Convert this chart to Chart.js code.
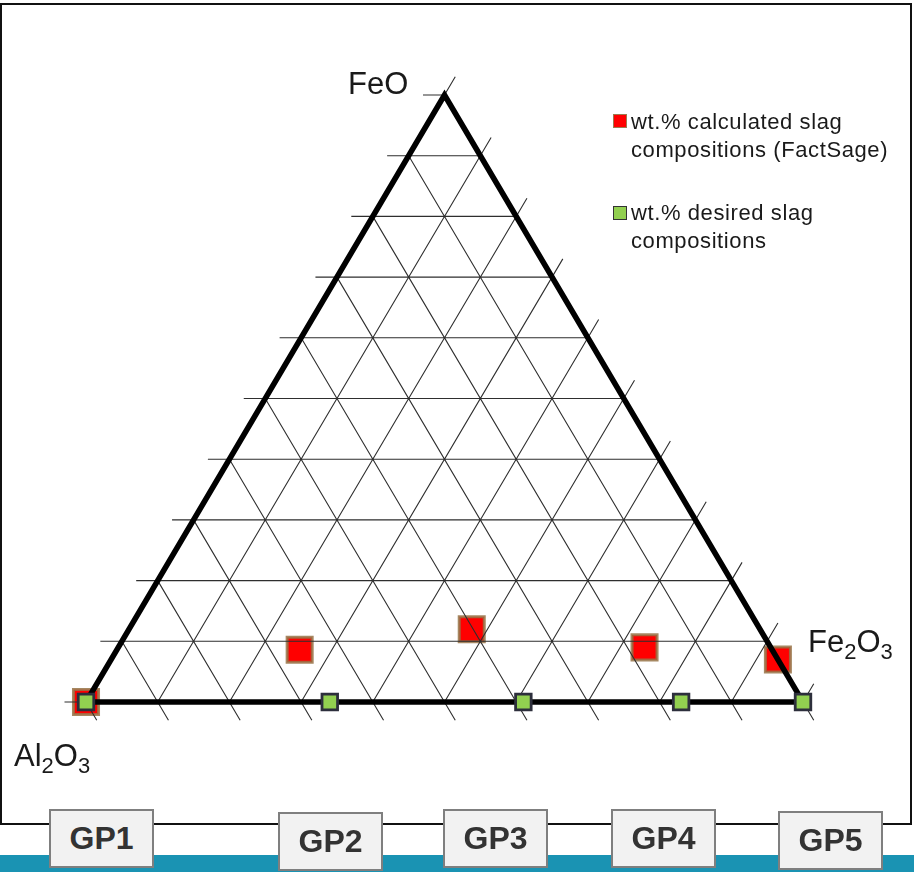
<!DOCTYPE html>
<html>
<head>
<meta charset="utf-8">
<title>Slag compositions - ternary diagram</title>
<script src="https://cdn.jsdelivr.net/npm/chart.js@4.4.1/dist/chart.umd.min.js"></script>
<style>
  html, body { margin: 0; padding: 0; background: #fff; }
  body { width: 914px; height: 872px; position: relative; overflow: hidden;
         font-family: "Liberation Sans", Arial, sans-serif; }
  #frame { position: absolute; left: 0; top: 3px; width: 912px; height: 822px;
           box-sizing: border-box; border: 2px solid #111; }
  #bar { position: absolute; left: 0; top: 855px; width: 914px; height: 17px; background: #1a93b3; }
  #chartBox { position: absolute; left: 0; top: 0; width: 914px; height: 872px; }
  .lbl { position: absolute; font-size: 31px; line-height: 1; color: #1a1a1a; white-space: nowrap; }
  .lbl sub { font-size: 22px; vertical-align: -7px; line-height: 0; }
  .leg { position: absolute; left: 631px; font-size: 22px; line-height: 28px;
         letter-spacing: 0.6px; color: #1a1a1a; white-space: nowrap; }
  .sw { position: absolute; width: 12px; height: 12px; }
  .gp { position: absolute; box-sizing: border-box; border: 2px solid #7f7f7f; background: #f2f2f2;
        font-weight: bold; font-size: 32px; color: #333; display: flex;
        align-items: center; justify-content: center; }
</style>
</head>
<body>
<div id="frame"></div>
<div id="bar"></div>
<div id="chartBox"><canvas id="ternChart"></canvas></div>

<div class="lbl" style="left:348px; top:68px;">FeO</div>
<div class="lbl" style="left:808px; top:626px;">Fe<sub>2</sub>O<sub>3</sub></div>
<div class="lbl" style="left:14px; top:740px;">Al<sub>2</sub>O<sub>3</sub></div>

<div class="sw" style="left:613px; top:114px; background:#ff0000; border:1px solid #9b7b52;"></div>
<div class="leg" style="top:108px;">wt.% calculated slag<br>compositions (FactSage)</div>
<div class="sw" style="left:613px; top:206px; background:#92d050; border:1px solid #333;"></div>
<div class="leg" style="top:199px;">wt.% desired slag<br>compositions</div>

<div id="gpRow"></div>

<script>
// sample names
const categories = ['GP1', 'GP2', 'GP3', 'GP4', 'GP5'];

// wt.% calculated slag compositions (FactSage)
const calcFeO   = [0, 8.6, 12.0, 9.0, 7.0];
const calcFe2O3 = [0, 25.5, 47.8, 73.4, 93.0];
const calcAl2O3 = [100, 65.9, 40.2, 17.6, 0];

// wt.% desired slag compositions
const desFeO   = [0, 0, 0, 0, 0];
const desFe2O3 = [0, 34, 61, 83, 100];
const desAl2O3 = [100, 66, 39, 17, 0];

// grid every 10 wt.%
const gridTicks = [0, 10, 20, 30, 40, 50, 60, 70, 80, 90, 100];

// box positions under the diagram (left, top)
const gpBoxes = [[49, 809], [278, 812], [443, 809], [611, 809], [778, 811]];

// ternary -> cartesian (Al2O3 left, Fe2O3 right, FeO top)
function toXY(feo, fe2o3, al2o3) {
  const s = feo + fe2o3 + al2o3;
  const f = 100 * feo / s, e = 100 * fe2o3 / s;
  return { x: e + f / 2, y: f };
}

const calcPts = categories.map((c, i) => toXY(calcFeO[i], calcFe2O3[i], calcAl2O3[i]));
const desPts  = categories.map((c, i) => toXY(desFeO[i], desFe2O3[i], desAl2O3[i]));

// grid + triangle drawn after the red squares, before the green ones
const ternaryGrid = {
  id: 'ternaryGrid',
  afterDatasetDraw(chart, args) {
    if (args.index !== 1) return;
    const ctx = chart.ctx;
    const sx = chart.scales.x, sy = chart.scales.y;
    const px = (x, y) => [sx.getPixelForValue(x), sy.getPixelForValue(y)];
    const seg = (a, b) => {
      const p = px(a[0], a[1]), q = px(b[0], b[1]);
      ctx.moveTo(p[0], p[1]);
      ctx.lineTo(q[0], q[1]);
    };
    const tick = 3;
    ctx.save();
    ctx.beginPath();
    gridTicks.forEach(t => {
      // FeO = t (horizontal), tick to the left
      seg([t / 2 - tick, t], [100 - t / 2, t]);
      // Al2O3 = t, tick below the base
      seg([(100 - t) / 2, 100 - t], [100 - t + tick / 2, -tick]);
      // Fe2O3 = t, tick beyond the right edge
      seg([t, 0], [t + (100 - t) / 2 + tick / 2, 100 - t + tick]);
    });
    ctx.lineWidth = 1.1;
    ctx.strokeStyle = '#2e2e2e';
    ctx.stroke();

    ctx.beginPath();
    const a = px(0, 0), b = px(100, 0), c = px(50, 100);
    ctx.moveTo(a[0], a[1]);
    ctx.lineTo(b[0], b[1]);
    ctx.lineTo(c[0], c[1]);
    ctx.closePath();
    ctx.lineWidth = 5.5;
    ctx.lineJoin = 'miter';
    ctx.strokeStyle = '#000';
    ctx.stroke();
    ctx.restore();
  }
};

const ctx = document.getElementById('ternChart').getContext('2d');
const ternChart = new Chart(ctx, {
  type: 'scatter',
  data: {
    datasets: [{
      label: 'wt.% desired slag compositions',
      data: desPts,
      pointStyle: 'rect',
      pointRadius: 11,
      backgroundColor: '#92d050',
      borderColor: '#2d2f3c',
      borderWidth: 2.8,
      clip: false
    }, {
      label: 'wt.% calculated slag compositions (FactSage)',
      data: calcPts,
      pointStyle: 'rect',
      pointRadius: 17.7,
      backgroundColor: '#ff0000',
      borderColor: 'rgba(150,115,70,0.85)',
      borderWidth: 3,
      clip: false
    }]
  },
  options: {
    responsive: true,
    maintainAspectRatio: false,
    animation: false,
    events: [],
    layout: { padding: { left: 86, right: 111, top: 95, bottom: 170 } },
    scales: {
      x: { type: 'linear', min: 0, max: 100, display: false },
      y: { type: 'linear', min: 0, max: 100, display: false }
    },
    plugins: { legend: { display: false }, tooltip: { enabled: false } }
  },
  plugins: [ternaryGrid]
});

// GP labels
const row = document.getElementById('gpRow');
categories.forEach((c, i) => {
  const d = document.createElement('div');
  d.className = 'gp';
  d.style.left = gpBoxes[i][0] + 'px';
  d.style.top = gpBoxes[i][1] + 'px';
  d.style.width = '105px';
  d.style.height = '59px';
  d.textContent = c;
  row.appendChild(d);
});
</script>
</body>
</html>
